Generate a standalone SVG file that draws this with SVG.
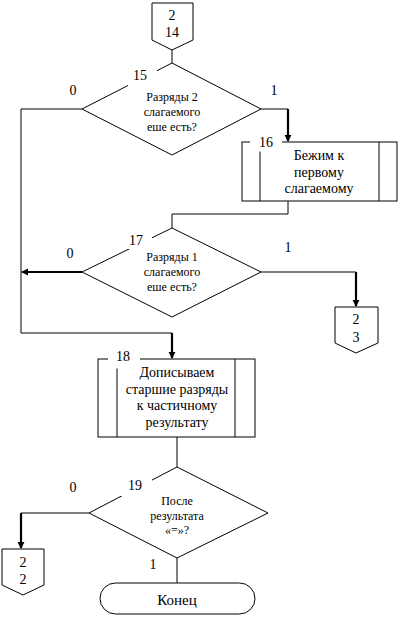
<svg xmlns="http://www.w3.org/2000/svg" width="403" height="633" viewBox="0 0 403 633">
<style>
.s{fill:none;stroke:#000;stroke-width:1}
.n{fill:#fff;stroke:#000;stroke-width:1}
.t{stroke:#000;stroke-width:2.2;fill:none}
.w{fill:#fff;stroke:none}
text{font-family:'Liberation Serif','DejaVu Serif Condensed','DejaVu Serif',serif;fill:#000;text-anchor:middle}
.b{font-size:14px}
.d{font-size:12px}
.l{font-size:14px}
</style>
<defs>
<marker id="a" viewBox="0 0 8 8" refX="7" refY="4" markerWidth="3.2" markerHeight="3.2" orient="auto" markerUnits="strokeWidth">
<path d="M0,0 L8,4 L0,8 z" fill="#000"/>
</marker>
</defs>
<g id="connectors">
<path class="s" d="M172,50 V63"/>
<path class="s" d="M82,109 H21 V333 H172"/>
<path class="t" d="M172,333 V358" marker-end="url(#a)"/>
<path class="s" d="M261,109 H288"/>
<path class="t" d="M288,109 V141" marker-end="url(#a)"/>
<path class="s" d="M288,201 V214 H172 V228"/>
<path class="t" d="M82,272 H22" marker-end="url(#a)"/>
<path class="s" d="M261,272 H356"/>
<path class="t" d="M356,272 V306" marker-end="url(#a)"/>
<path class="s" d="M177,437 V467"/>
<path class="s" d="M89,513 H21"/>
<path class="t" d="M21,513 V548" marker-end="url(#a)"/>
<path class="s" d="M177,558 V583"/>
<text class="l" x="73" y="95">0</text>
<text class="l" x="274" y="95">1</text>
<text class="l" x="70" y="258">0</text>
<text class="l" x="288" y="252">1</text>
<text class="l" x="73" y="492">0</text>
<text class="l" x="153" y="569">1</text>
</g>
<g id="c14">
<path class="n" d="M152,3 H193 V40 L172,50 L152,40 Z"/>
<text class="l" x="172" y="20">2</text>
<text class="l" x="172" y="37">14</text>
</g>
<g id="n15">
<polygon class="n" points="172,63 261,109 172,155 82,109"/>
<rect class="w" x="128" y="67" width="29" height="20"/>
<text class="l" x="140" y="80">15</text>
<text class="d" x="172" y="101">Разряды 2</text>
<text class="d" x="172" y="116">слагаемого</text>
<text class="d" x="172" y="131">еше есть?</text>
</g>
<g id="n16">
<rect class="n" x="242" y="142" width="155" height="59"/>
<path class="s" d="M260,142 V201 M379,142 V201"/>
<rect class="w" x="250" y="136" width="32" height="15.5"/>
<text class="l" x="266" y="147">16</text>
<text class="b" x="319" y="160">Бежим к</text>
<text class="b" x="319" y="177">первому</text>
<text class="b" x="319" y="193">слагаемому</text>
</g>
<g id="n17">
<polygon class="n" points="172,228 261,272 172,317 82,272"/>
<rect class="w" x="128" y="230" width="24" height="19"/>
<text class="l" x="136" y="245">17</text>
<text class="d" x="172" y="261">Разряды 1</text>
<text class="d" x="172" y="276">слагаемого</text>
<text class="d" x="172" y="291">еше есть?</text>
</g>
<g id="c23">
<path class="n" d="M335,307 H378 V343 L356,353 L335,343 Z"/>
<text class="l" x="356" y="324">2</text>
<text class="l" x="356" y="342">3</text>
</g>
<g id="n18">
<rect class="n" x="98" y="359" width="157" height="78"/>
<path class="s" d="M117,359 V437 M235,359 V437"/>
<rect class="w" x="108" y="352" width="32" height="16.5"/>
<text class="l" x="123" y="361">18</text>
<text class="b" x="177" y="377">Дописываем</text>
<text class="b" x="177" y="394">старшие разряды</text>
<text class="b" x="177" y="410">к частичному</text>
<text class="b" x="177" y="427">результату</text>
</g>
<g id="n19">
<polygon class="n" points="177,467 268,513 177,558 89,513"/>
<rect class="w" x="120" y="474" width="32" height="22"/>
<text class="l" x="135" y="490">19</text>
<text class="d" x="177" y="505">После</text>
<text class="d" x="177" y="520">результата</text>
<text class="d" x="177" y="534">«=»?</text>
</g>
<g id="c22">
<path class="n" d="M2,549 H44 V585 L23,595 L2,585 Z"/>
<text class="l" x="23" y="567">2</text>
<text class="l" x="23" y="584">2</text>
</g>
<g id="end">
<rect class="n" x="100" y="583" width="155" height="31" rx="15.5" ry="15.5"/>
<text class="b" x="177" y="605" style="font-size:15px">Конец</text>
</g>
</svg>
